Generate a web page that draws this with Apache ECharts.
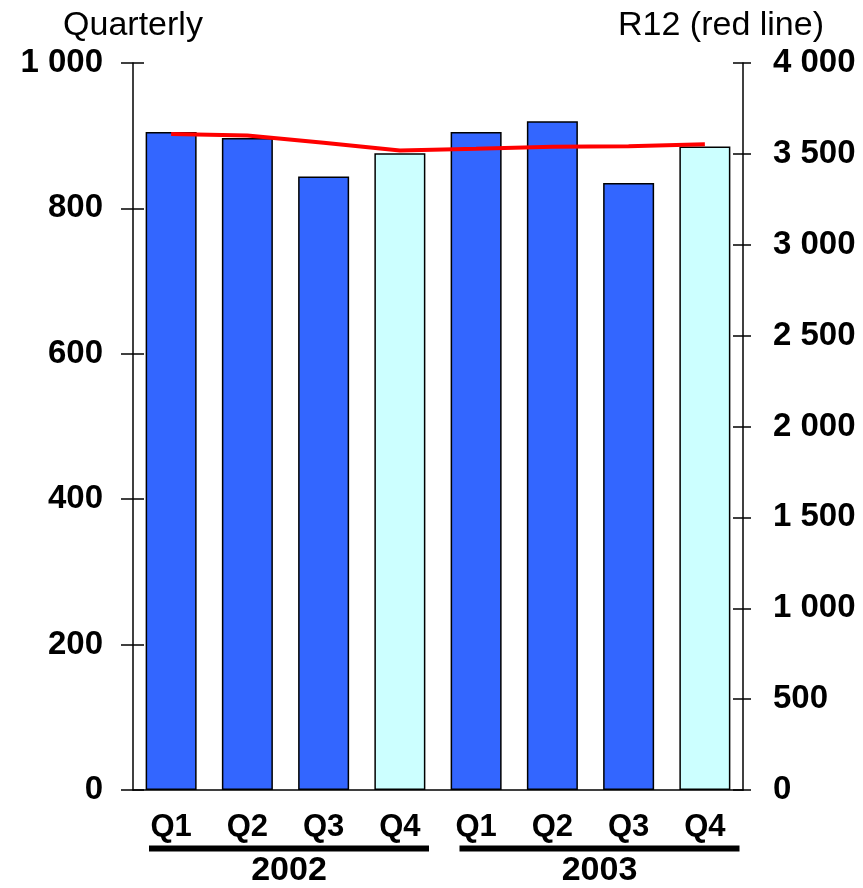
<!DOCTYPE html>
<html>
<head>
<meta charset="utf-8">
<script src="https://cdn.jsdelivr.net/npm/echarts@6/dist/echarts.min.js"></script>
<style>
html,body{margin:0;padding:0;background:#fff;}
#c{width:863px;height:888px;}
</style>
</head>
<body>
<div id="c"></div>
<script>
var categories = ['Q1','Q2','Q3','Q4','Q1','Q2','Q3','Q4'];
var years = ['2002','2003'];
var quarterly = [905, 897, 844, 876, 905, 920, 835, 885];
var r12 = [3610, 3601, 3561, 3519, 3528, 3539, 3542, 3553];
var leftTicks = {min: 0, max: 1000, interval: 200};
var rightTicks = {min: 0, max: 4000, interval: 500};

var FONT = "'Liberation Sans', Arial, sans-serif";
function fmt(v){ return String(v).replace(/\B(?=(\d{3})+(?!\d))/g, ' '); }

var chart = echarts.init(document.getElementById('c'));
var yBase = {
  type: 'value',
  splitLine: {show: false}
};
chart.setOption({
  animation: false,
  backgroundColor: '#fff',
  grid: {left: 133, right: 120, top: 63, bottom: 93.5, containLabel: false},
  xAxis: [{
    type: 'category',
    data: categories,
    position: 'bottom',
    axisLine: {show: true, lineStyle: {color: '#000', width: 1.5}},
    axisTick: {show: false},
    axisLabel: {margin: 22, color: '#000', fontFamily: FONT, fontSize: 31, fontWeight: 'bold', interval: 0}
  }, {
    type: 'category',
    data: years,
    position: 'bottom',
    axisLine: {show: false},
    axisTick: {show: false},
    axisLabel: {
      margin: 55.5, interval: 0,
      formatter: function(v, i){
        return i === 0 ? '{sa|}{l|}\n{sa|}{y|' + v + '}' : '{sb|}{l|}\n{sb|}{y|' + v + '}';
      },
      rich: {
        l: {width: 280, height: 6, backgroundColor: '#000'},
        sa: {width: 7, height: 6},
        sb: {width: 18, height: 6},
        y: {fontFamily: FONT, fontSize: 34, fontWeight: 'bold', color: '#000', lineHeight: 38, padding: [1,0,0,0]}
      }
    }
  }],
  yAxis: [Object.assign({}, yBase, leftTicks, {
    position: 'left',
    name: 'Quarterly',
    nameLocation: 'end',
    nameGap: 20,
    nameTextStyle: {fontFamily: FONT, fontSize: 34, color: '#000'},
    axisLine: {show: true, lineStyle: {color: '#000', width: 1.5}},
    axisTick: {show: true, inside: false, length: 12, lineStyle: {color: '#000', width: 1.5}},
    axisLabel: {margin: 30, color: '#000', fontFamily: FONT, fontSize: 33, fontWeight: 'bold', formatter: fmt}
  }), Object.assign({}, yBase, rightTicks, {
    position: 'right',
    name: 'R12 (red line)',
    nameLocation: 'end',
    nameGap: 20,
    nameTextStyle: {fontFamily: FONT, fontSize: 34, color: '#000', padding: [0, 44, 0, 0]},
    axisLine: {show: true, lineStyle: {color: '#000', width: 1.5}},
    axisTick: {show: true, inside: false, length: 8, lineStyle: {color: '#000', width: 1.5}},
    axisLabel: {margin: 30, color: '#000', fontFamily: FONT, fontSize: 33, fontWeight: 'bold', formatter: fmt}
  }), Object.assign({}, yBase, leftTicks, {
    position: 'left',
    axisLine: {show: false},
    axisTick: {show: true, inside: true, length: 11, lineStyle: {color: '#000', width: 1.5}},
    axisLabel: {show: false}
  }), Object.assign({}, yBase, rightTicks, {
    position: 'right',
    axisLine: {show: false},
    axisTick: {show: true, inside: true, length: 10, lineStyle: {color: '#000', width: 1.5}},
    axisLabel: {show: false}
  })],
  series: [{
    type: 'bar',
    xAxisIndex: 0,
    yAxisIndex: 0,
    data: quarterly,
    barWidth: 51,
    itemStyle: {
      color: function(p){ return categories[p.dataIndex] === 'Q4' ? '#ccffff' : '#3366ff'; },
      borderColor: '#000',
      borderWidth: 1.5
    }
  }, {
    type: 'line',
    xAxisIndex: 0,
    yAxisIndex: 1,
    data: r12,
    symbol: 'none',
    z: 5,
    lineStyle: {color: '#ff0000', width: 4}
  }]
});
</script>
</body>
</html>
